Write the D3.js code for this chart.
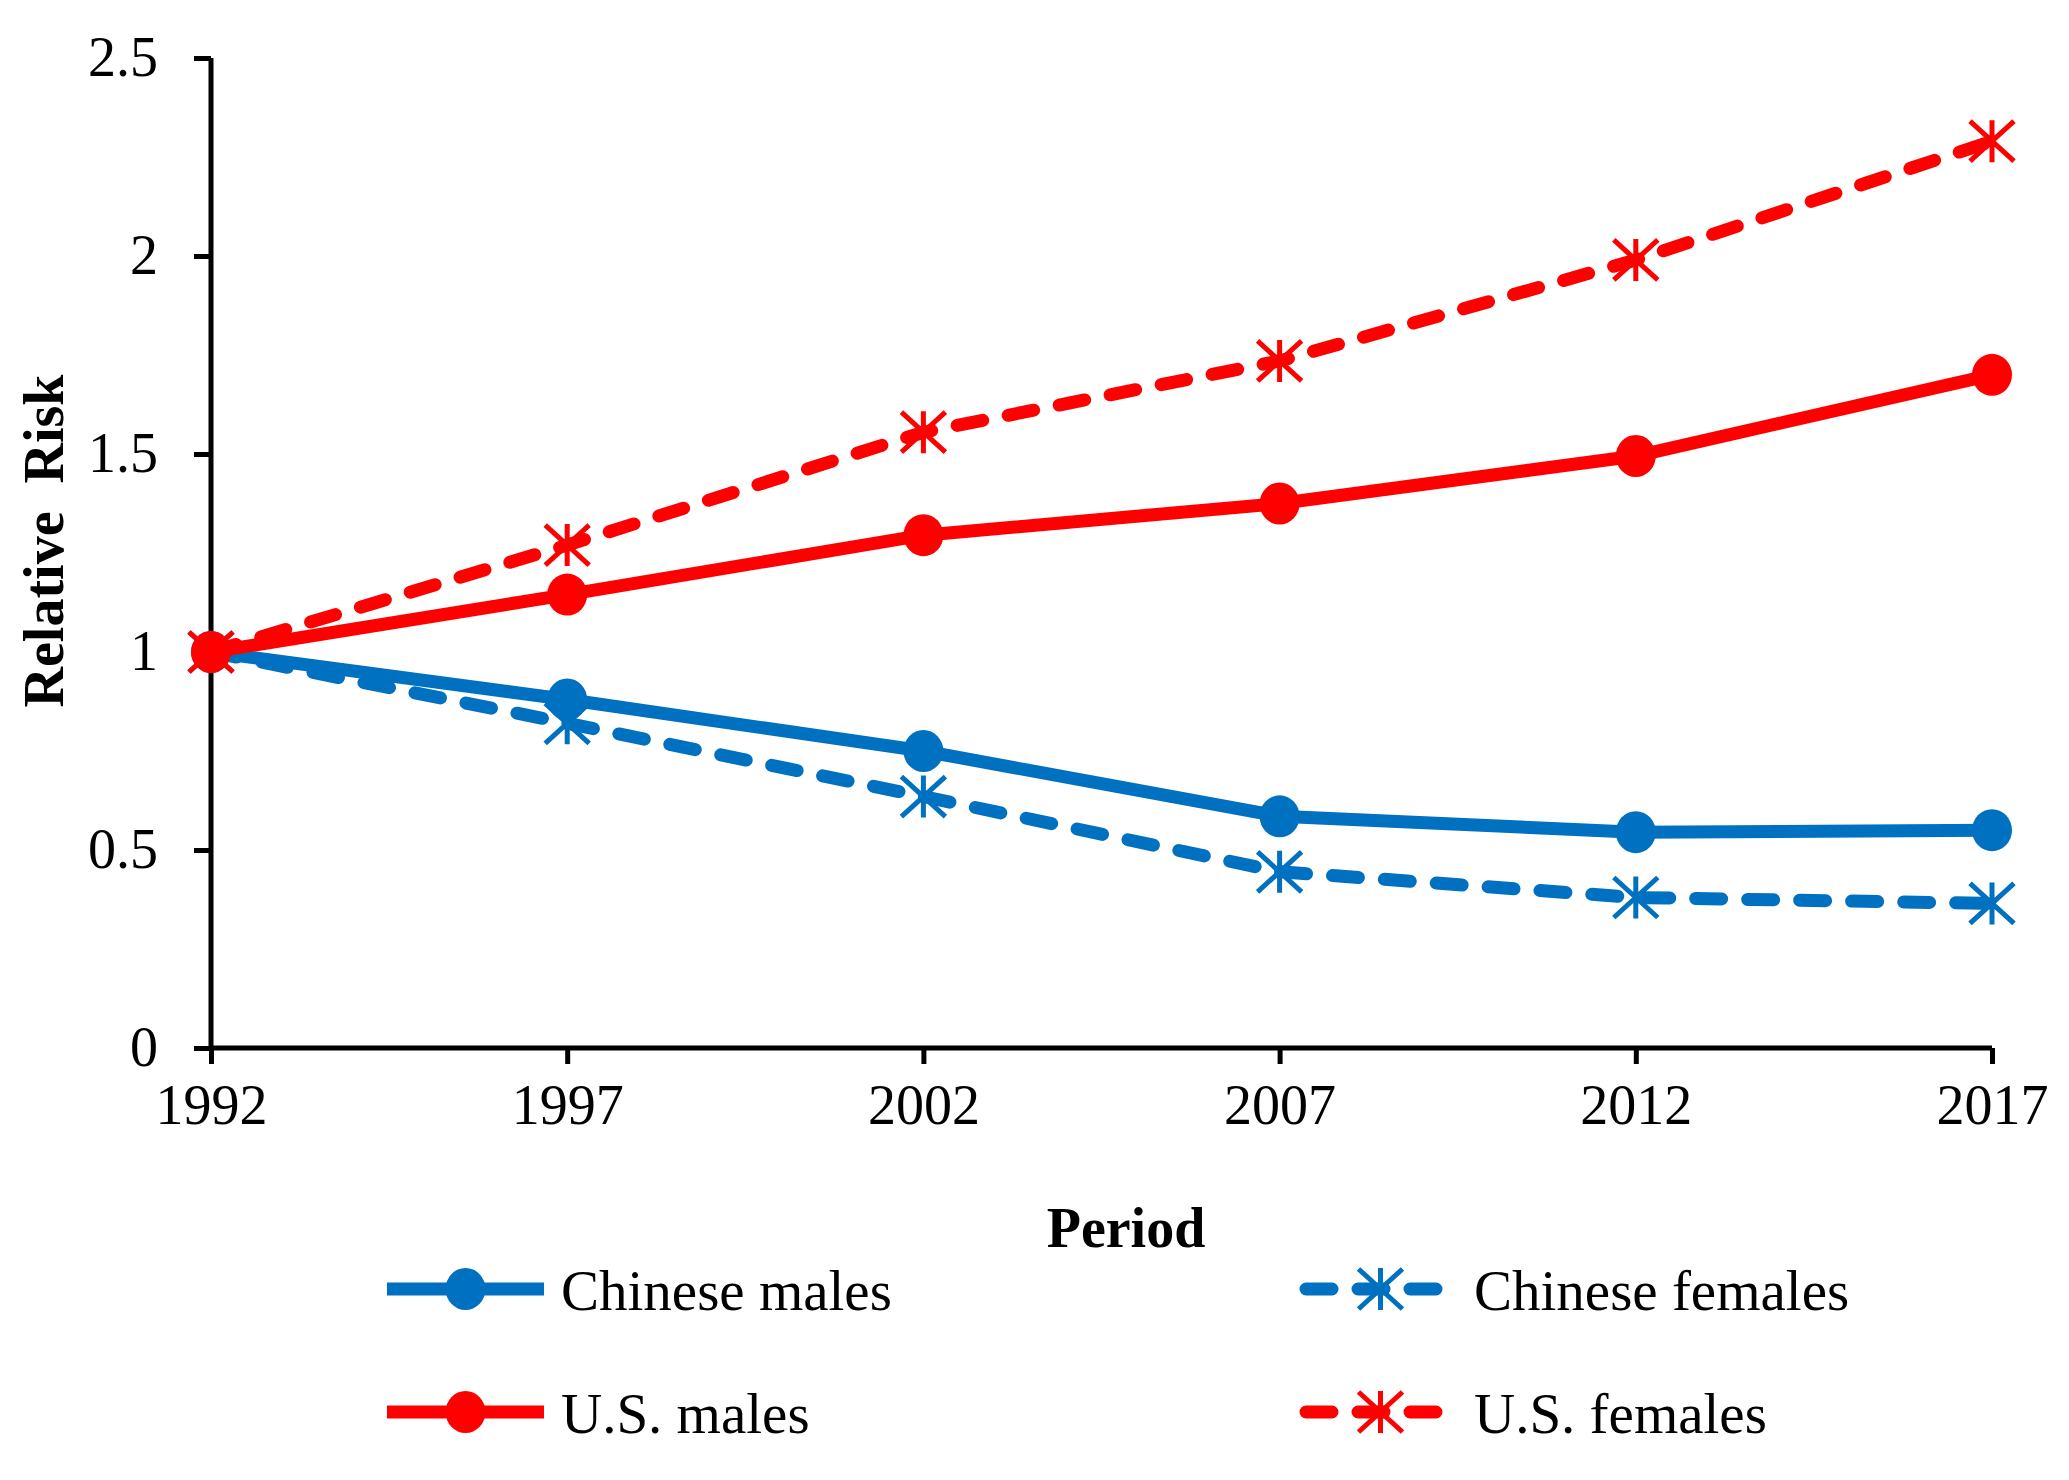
<!DOCTYPE html>
<html>
<head>
<meta charset="utf-8">
<script src="https://cdn.jsdelivr.net/npm/d3@7"></script>
<style>
  body { margin: 0; background: #fff; }
  svg text { font-family: "Liberation Serif", "Times New Roman", serif; fill: #000; }
</style>
</head>
<body>
<svg id="chart"></svg>
<script>
// data
var years = [1992, 1997, 2002, 2007, 2012, 2017];
var yTicks = [0, 0.5, 1, 1.5, 2, 2.5];
var chineseMales = [1.0, 0.88, 0.75, 0.585, 0.545, 0.55];
var chineseFemales = [1.0, 0.82, 0.635, 0.445, 0.38, 0.365];
var usMales = [1.0, 1.145, 1.295, 1.375, 1.495, 1.70];
var usFemales = [1.0, 1.27, 1.555, 1.735, 1.99, 2.29];
var seriesNames = ["Chinese males", "Chinese females", "U.S. males", "U.S. females"];

var blue = "#0070C0", red = "#FF0000";
var series = [
    { name: seriesNames[0], values: chineseMales, color: blue, dashed: false },
    { name: seriesNames[1], values: chineseFemales, color: blue, dashed: true },
    { name: seriesNames[2], values: usMales, color: red, dashed: false },
    { name: seriesNames[3], values: usFemales, color: red, dashed: true }
];

var width = 2069, height = 1480;
var svg = d3.select("#chart").attr("width", width).attr("height", height);

var x = d3.scaleLinear().domain([1992, 2017]).range([211, 1992]);
var y = d3.scaleLinear().domain([0, 2.5]).range([1048, 58]);

// axes
var yAxis = svg.append("g")
    .attr("transform", "translate(211,0)")
    .call(d3.axisLeft(y).tickValues(yTicks).tickFormat(d3.format("")).tickSize(17).tickPadding(36));
var xAxis = svg.append("g")
    .attr("transform", "translate(0,1048)")
    .call(d3.axisBottom(x).tickValues(years).tickFormat(d3.format("d")).tickSize(16).tickPadding(20));

[yAxis, xAxis].forEach(function (g) {
    g.select(".domain").attr("stroke", "#000").attr("stroke-width", 5);
    g.selectAll(".tick line").attr("stroke", "#000").attr("stroke-width", 5);
    g.selectAll(".tick text").attr("font-size", 56).attr("font-family", "Liberation Serif");
});
xAxis.select(".domain").attr("d", "M211,0H1992");
yAxis.select(".domain").attr("d", "M0,58V1048");
xAxis.selectAll(".tick text").attr("dy", "0.71em");

// axis titles
svg.append("text")
    .attr("x", 1126).attr("y", 1247)
    .attr("text-anchor", "middle")
    .attr("font-size", 56).attr("font-weight", "bold")
    .text("Period");
svg.append("text")
    .attr("transform", "translate(63,541) rotate(-90)")
    .attr("text-anchor", "middle")
    .attr("font-size", 56).attr("font-weight", "bold")
    .style("white-space", "pre")
    .text("Relative  Risk");

var line = d3.line()
    .x(function (d, i) { return x(years[i]); })
    .y(function (d) { return y(d); });

// star marker: vertical bar plus a wide X
function asterisk(g, cx, cy, color) {
    var h = 21, w = 22;
    g.append("path")
        .attr("d", "M" + cx + "," + (cy - h) + "V" + (cy + h) +
            "M" + (cx - w) + "," + (cy - h + 1) + "L" + (cx + w) + "," + (cy + h - 1) +
            "M" + (cx + w) + "," + (cy - h + 1) + "L" + (cx - w) + "," + (cy + h - 1))
        .attr("stroke", color).attr("stroke-width", 5).attr("fill", "none");
}

function marker(g, s, cx, cy) {
    if (s.dashed) {
        asterisk(g, cx, cy, s.color);
    } else {
        g.append("ellipse")
            .attr("cx", cx).attr("cy", cy).attr("rx", 20).attr("ry", 21)
            .attr("fill", s.color);
    }
}

series.forEach(function (s) {
    var g = svg.append("g");
    g.append("path")
        .datum(s.values)
        .attr("d", line)
        .attr("fill", "none")
        .attr("stroke", s.color)
        .attr("stroke-width", 13)
        .attr("stroke-linecap", s.dashed ? "round" : "butt")
        .attr("stroke-dasharray", s.dashed ? "26,26" : null);
    s.values.forEach(function (v, i) {
        marker(g, s, x(years[i]), y(v));
    });
});

// legend
var legendPos = [
    { x0: 387, x1: 544, ty: 1289, tx: 561 },
    { x0: 1300, x1: 1461, ty: 1289, tx: 1474 },
    { x0: 387, x1: 544, ty: 1412, tx: 561 },
    { x0: 1300, x1: 1461, ty: 1412, tx: 1474 }
];
series.forEach(function (s, i) {
    var p = legendPos[i];
    var g = svg.append("g");
    g.append("line")
        .attr("x1", p.x0 + (s.dashed ? 6 : 0)).attr("x2", p.x1 - (s.dashed ? 6 : 0))
        .attr("y1", p.ty).attr("y2", p.ty)
        .attr("stroke", s.color).attr("stroke-width", 13)
        .attr("stroke-linecap", s.dashed ? "round" : "butt")
        .attr("stroke-dasharray", s.dashed ? "26,26" : null);
    marker(g, s, (p.x0 + p.x1) / 2, p.ty);
    g.append("text")
        .attr("x", p.tx).attr("y", p.ty + 21)
        .attr("font-size", 57)
        .text(s.name);
});
</script>
</body>
</html>
